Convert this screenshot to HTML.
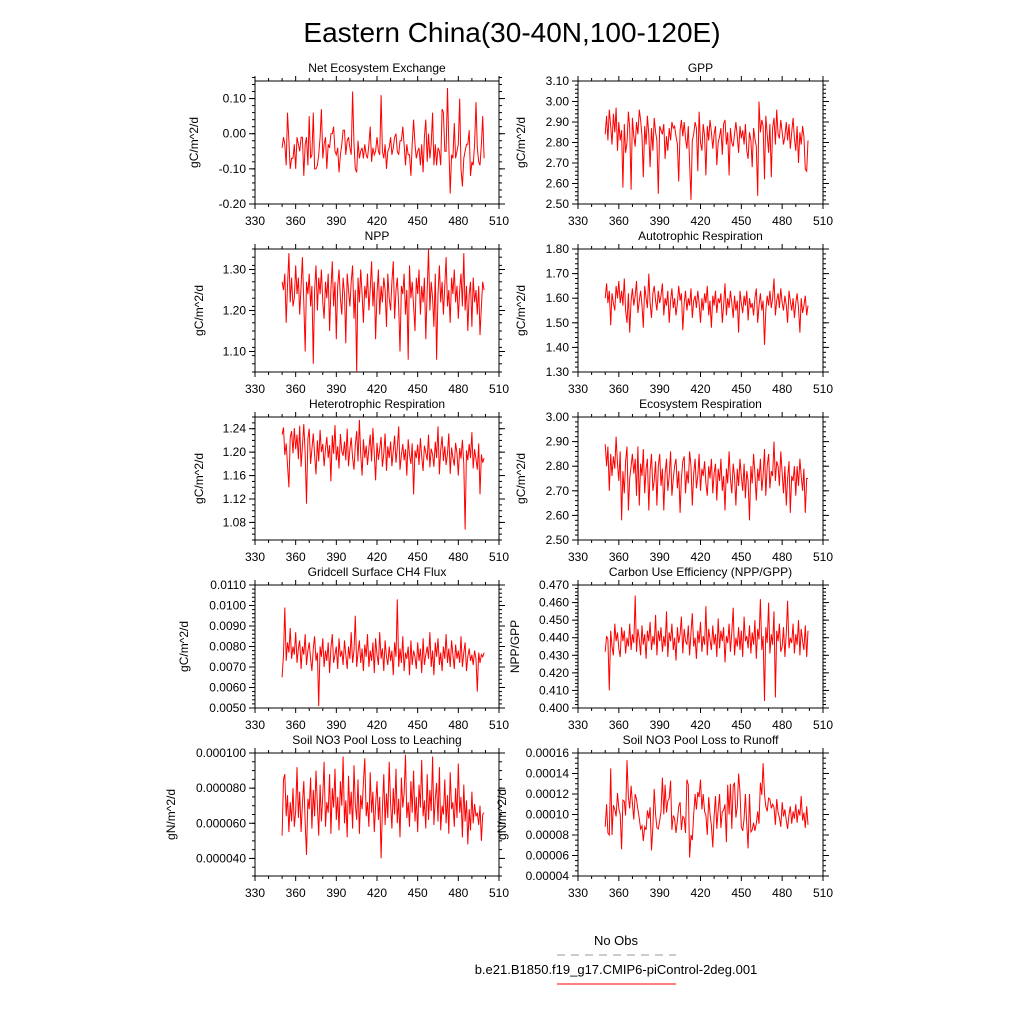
<!DOCTYPE html>
<html><head><meta charset="utf-8"><style>
html,body{margin:0;padding:0;background:#fff;}
svg{display:block;font-family:"Liberation Sans",sans-serif;}
</style></head><body>
<svg id="chart" width="1024" height="1024" viewBox="0 0 1024 1024">
<text x="512" y="42" font-size="28" text-anchor="middle">Eastern China(30-40N,100-120E)</text>
<g>
<text x="616" y="945" font-size="13" text-anchor="middle">No Obs</text>
<line x1="557" y1="955" x2="676" y2="955" stroke="#999" stroke-width="1" stroke-dasharray="8,6"/>
<text x="616" y="974" font-size="13" text-anchor="middle">b.e21.B1850.f19_g17.CMIP6-piControl-2deg.001</text>
<line x1="557" y1="984" x2="676" y2="984" stroke="#f00" stroke-width="1"/>
</g>
</svg>
<script>
const xTicks = [330,360,390,420,450,480,510];
const xStart = 350;
const neeVals = [-4,-1,-3,-9,6,-2,-10,-7,-7,-3,-10,-1,-3,-5,-1,-1,-12,-3,-1,-9,5,-7,-6,6,-10,-10,-9,-6,-1,7,-7,-3,-1,-10,-3,-4,0,0,2,-5,-6,-4,-11,-6,-3,1,1,-6,-2,-1,-4,-6,12,-3,-10,-11,-2,-7,-5,-4,-7,-3,-6,-7,-3,2,-8,-4,-6,-5,-1,-5,-6,11,-5,-7,-3,-10,-5,-4,-1,-6,-4,-1,0,-5,-6,-2,-2,2,-3,-9,-3,-6,-6,-12,-3,4,-3,-7,-5,-4,-9,-3,-11,-1,4,-8,0,-7,-3,6,-9,-3,-9,-4,-5,-9,7,6,-5,-5,13,-3,-17,-6,-7,3,-7,-5,-3,10,-10,-15,-7,-5,-3,-3,1,-12,-8,-9,-3,9,-4,-8,-9,-3,5,-7];
const gppVals = [284,293,281,296,288,279,294,285,297,276,290,281,286,258,289,275,280,295,287,257,292,283,278,290,284,296,291,283,263,288,279,293,284,268,287,276,292,285,281,255,288,286,284,289,272,283,276,287,281,290,287,288,283,279,261,286,291,283,290,282,277,288,270,252,281,284,290,287,266,295,280,276,289,283,264,288,281,291,285,277,284,288,269,280,283,287,274,289,291,279,285,264,287,280,278,284,290,283,275,288,282,286,279,289,276,272,285,281,268,287,282,278,254,300,285,291,288,262,293,284,275,289,263,287,292,279,296,284,282,291,285,279,283,290,281,289,277,285,292,282,276,288,270,285,279,288,283,267,266,281];
const nppVals = [127,125,129,117,126,134,122,128,121,123,131,124,128,119,126,133,122,110,127,124,129,121,126,107,125,131,120,128,124,130,122,118,127,123,129,115,125,132,121,127,113,126,130,123,119,128,124,112,129,125,121,127,131,118,125,105,128,122,130,124,117,126,123,129,120,125,132,121,127,113,124,130,119,126,122,128,125,116,129,123,120,127,132,118,125,128,121,110,126,124,129,119,125,108,131,123,127,121,115,128,124,130,119,126,122,128,113,125,135,120,127,123,116,129,108,124,131,122,127,119,126,133,121,125,117,128,124,130,122,126,118,125,129,121,134,120,126,115,124,127,116,128,122,125,119,126,114,121,127,125];
const arVals = [160,166,158,163,149,162,158,155,165,160,167,158,163,157,168,155,150,162,146,159,164,157,161,167,154,159,163,157,148,165,160,156,170,158,152,162,165,159,155,163,158,161,166,153,160,157,163,150,159,164,156,160,153,158,165,159,162,147,158,163,155,160,157,164,152,159,161,156,163,158,150,160,155,162,158,165,153,159,148,161,157,163,154,160,158,162,150,157,166,153,160,156,163,158,152,161,155,159,146,163,158,154,161,157,163,151,160,156,158,153,160,164,150,157,162,155,159,141,155,161,157,163,156,160,168,153,159,162,156,164,158,155,161,157,150,163,159,155,160,152,158,162,156,146,160,154,157,161,153,157];
const hrVals = [230,242,195,215,178,140,225,236,198,241,205,230,188,245,175,210,248,196,112,223,240,180,205,232,195,162,220,184,238,200,214,176,205,226,190,212,150,229,197,246,186,210,172,231,201,194,218,186,240,176,205,225,190,170,212,236,184,255,196,160,222,190,211,178,206,230,184,241,196,152,216,187,205,226,175,198,232,168,210,190,218,176,203,228,182,207,244,170,195,214,186,205,160,222,196,180,215,128,203,190,213,178,224,192,168,211,199,186,230,174,206,196,175,218,190,244,162,204,227,185,210,178,198,232,163,208,190,177,216,198,160,207,189,221,180,68,203,186,214,190,234,172,205,188,170,215,128,196,182,190];
const erVals = [289,280,288,270,285,276,284,279,292,281,274,286,258,278,269,282,288,262,275,280,285,277,283,268,288,264,281,276,287,269,279,283,262,278,285,270,274,282,264,280,285,272,279,262,277,283,270,276,286,268,275,280,283,271,278,261,275,282,284,269,278,273,286,280,264,277,283,271,276,285,270,279,276,282,273,268,280,275,283,269,277,281,266,279,274,283,270,276,262,279,273,286,275,269,281,276,264,279,272,283,276,270,281,267,278,274,258,280,273,285,277,266,279,274,283,270,276,287,268,280,285,271,278,276,290,274,282,280,272,286,277,269,280,264,275,282,261,276,274,280,268,280,272,283,276,270,279,261,275,275];
const ch4Vals = [65,76,99,73,82,77,89,74,80,76,87,72,79,83,69,80,76,86,71,78,82,74,68,79,85,73,77,51,80,75,84,70,78,73,82,67,79,86,72,76,80,69,84,75,78,71,83,76,69,80,74,87,72,78,95,70,77,83,72,79,68,81,75,86,70,78,73,82,67,84,76,71,87,74,79,68,83,75,71,80,73,78,66,82,75,103,70,79,72,85,68,77,74,80,66,83,71,78,75,69,82,73,79,67,84,71,76,80,74,87,70,78,66,82,75,84,71,77,68,80,74,86,72,79,70,83,76,69,81,74,78,72,85,70,77,82,68,75,79,73,76,71,78,74,58,77,72,76,75,77];
const cueVals = [32,41,39,10,44,35,30,48,38,43,34,29,46,38,44,31,40,35,48,33,42,37,64,32,45,39,30,47,36,42,28,44,38,49,33,41,36,53,30,44,38,46,32,41,35,55,29,43,38,48,33,40,27,46,37,42,52,31,45,38,36,47,30,43,54,35,40,28,44,37,49,32,41,36,58,30,45,39,33,47,36,42,29,51,34,44,38,46,26,41,37,48,32,43,57,30,40,35,46,33,44,29,52,38,41,34,47,31,43,36,50,28,45,39,62,33,41,4,46,37,60,31,42,36,55,6,44,38,48,32,35,46,29,43,61,34,40,37,48,31,42,36,50,30,45,38,33,47,29,44];
const leachVals = [53,85,88,64,76,55,72,61,80,58,67,92,63,78,55,71,84,60,42,74,68,86,57,79,64,90,70,53,82,61,76,95,58,72,66,88,54,80,69,91,62,75,56,84,70,98,60,73,52,87,65,78,57,93,71,62,85,54,76,68,83,97,64,72,58,89,66,78,55,70,84,62,75,40,68,88,59,77,63,95,71,57,80,65,91,60,74,52,86,69,77,99,63,72,58,84,66,90,61,75,55,82,69,96,64,73,57,88,62,79,67,98,59,74,83,61,92,56,70,65,85,60,76,54,89,68,72,58,80,63,94,66,75,52,82,61,73,48,68,56,78,60,71,64,66,59,70,50,65,66];
const runoffVals = [88,110,82,80,145,80,109,105,98,121,106,100,66,114,113,99,153,117,106,128,111,95,120,115,105,96,86,89,74,88,85,104,96,107,65,88,125,100,87,86,94,103,136,100,129,102,113,116,133,85,99,96,82,94,108,112,85,98,96,82,134,129,58,80,75,100,120,105,122,117,134,105,120,103,99,80,117,101,89,68,98,118,86,105,120,87,103,104,110,73,129,100,130,86,128,131,97,108,140,122,88,84,96,120,90,67,120,83,85,92,84,91,103,91,131,119,150,120,108,103,116,115,106,110,107,90,115,102,97,88,112,98,105,94,86,100,108,91,103,96,110,92,105,99,118,94,102,87,108,90];

const panels = [
 {name:'nee',title:'Net Ecosystem Exchange',vals:neeVals,scale:0.01,off:0,min:-0.2,max:0.15,step:0.1,minor:0.02,dec:2,col:0,row:0,ylab:'gC/m^2/d',lx:198},
 {name:'gpp',title:'GPP',vals:gppVals,scale:0.01,off:0,min:2.5,max:3.1,step:0.1,minor:0.02,dec:2,col:1,row:0,ylab:'gC/m^2/d',lx:525},
 {name:'npp',title:'NPP',vals:nppVals,scale:0.01,off:0,min:1.05,max:1.35,step:0.1,minor:0.02,dec:2,col:0,row:1,ylab:'gC/m^2/d',lx:203,first:1.1},
 {name:'ar',title:'Autotrophic Respiration',vals:arVals,scale:0.01,off:0,min:1.3,max:1.8,step:0.1,minor:0.02,dec:2,col:1,row:1,ylab:'gC/m^2/d',lx:525},
 {name:'hr',title:'Heterotrophic Respiration',vals:hrVals,scale:0.001,off:1,min:1.05,max:1.26,step:0.04,minor:0.01,dec:2,col:0,row:2,ylab:'gC/m^2/d',lx:203,first:1.08},
 {name:'er',title:'Ecosystem Respiration',vals:erVals,scale:0.01,off:0,min:2.5,max:3.0,step:0.1,minor:0.02,dec:2,col:1,row:2,ylab:'gC/m^2/d',lx:525},
 {name:'ch4',title:'Gridcell Surface CH4 Flux',vals:ch4Vals,scale:0.0001,off:0,min:0.005,max:0.011,step:0.001,minor:0.0002,dec:4,col:0,row:3,ylab:'gC/m^2/d',lx:188},
 {name:'cue',title:'Carbon Use Efficiency (NPP/GPP)',vals:cueVals,scale:0.001,off:0.4,min:0.4,max:0.47,step:0.01,minor:0.002,dec:3,col:1,row:3,ylab:'NPP/GPP',lx:519},
 {name:'leach',title:'Soil NO3 Pool Loss to Leaching',vals:leachVals,scale:0.000001,off:0,min:0.00003,max:0.0001,step:0.00002,minor:0.000005,dec:6,col:0,row:4,ylab:'gN/m^2/d',lx:175,first:0.00004},
 {name:'runoff',title:'Soil NO3 Pool Loss to Runoff',vals:runoffVals,scale:0.000001,off:0,min:0.00004,max:0.00016,step:0.00002,minor:0.000005,dec:5,col:1,row:4,ylab:'gN/m^2/d',lx:506}
];
const NS='http://www.w3.org/2000/svg';
const svg=document.getElementById('chart');
function mk(tag,attrs,parent){const e=document.createElementNS(NS,tag);for(const k in attrs)e.setAttribute(k,attrs[k]);parent.appendChild(e);return e;}
panels.forEach(p=>{
 const L = p.col===0?255:578, R = p.col===0?499:823;
 const T = 81 + p.row*168, B = T+123;
 const xs = v => L + (v-330)/(510-330)*(R-L);
 const ys = v => B - (v-p.min)/(p.max-p.min)*(B-T);
 const g = mk('g',{},svg);
 
 
 const t = mk('text',{x:(L+R)/2,y:T-9,'font-size':12,'text-anchor':'middle'},g);
 t.textContent=p.title;
 
 
 const yl = mk('text',{x:0,y:0,'font-size':12,'text-anchor':'middle',transform:`translate(${p.lx},${(T+B)/2}) rotate(-90)`},g);
 yl.textContent=p.ylab;
 
 
 // x ticks
 for(let v=330; v<=510; v+=10){
   const x=xs(v), major=(v-330)%30===0, len=major?5:3;
   const a=mk('line',{x1:x,y1:B,x2:x,y2:B+len,stroke:'#000','stroke-width':1},g);
   
   
   const b=mk('line',{x1:x,y1:T,x2:x,y2:T-len,stroke:'#000','stroke-width':1},g);
   
   
 }
 xTicks.forEach(v=>{
   const tx=mk('text',{x:xs(v),y:B+21,'font-size':12,'text-anchor':'middle'},g);
   tx.textContent=v;
   
   
 });
 // y ticks
 const nMin=Math.round((p.max-p.min)/p.minor);
 for(let i=0;i<=nMin;i++){
   const v=p.min+i*p.minor; const y=ys(v);
   const a=mk('line',{x1:L,y1:y,x2:L-3,y2:y,stroke:'#000','stroke-width':1},g);
   
   
   const b=mk('line',{x1:R,y1:y,x2:R+3,y2:y,stroke:'#000','stroke-width':1},g);
   
   
 }
 const first = p.first!==undefined?p.first:p.min;
 for(let v=first; v<=p.max+1e-12; v+=p.step){
   const y=ys(v);
   const a=mk('line',{x1:L,y1:y,x2:L-6,y2:y,stroke:'#000','stroke-width':1},g);
   
   
   const b=mk('line',{x1:R,y1:y,x2:R+6,y2:y,stroke:'#000','stroke-width':1},g);
   
   
   const tl=mk('text',{x:L-9,y:y+4,'font-size':12,'text-anchor':'end'},g);
   tl.textContent=(Math.abs(v)<1e-12?0:v).toFixed(p.dec);
   
   
 }
 const fr=mk('rect',{x:L,y:T,width:R-L,height:B-T,fill:'none',stroke:'#000','stroke-width':1},g);
 
 
 const pts=p.vals.map((v,i)=>xs(xStart+i).toFixed(1)+','+ys(p.off+v*p.scale).toFixed(1)).join(' ');
 const pl=mk('polyline',{points:pts,fill:'none',stroke:'#f00','stroke-width':1},g);
 
 
});
</script>
</body></html>
